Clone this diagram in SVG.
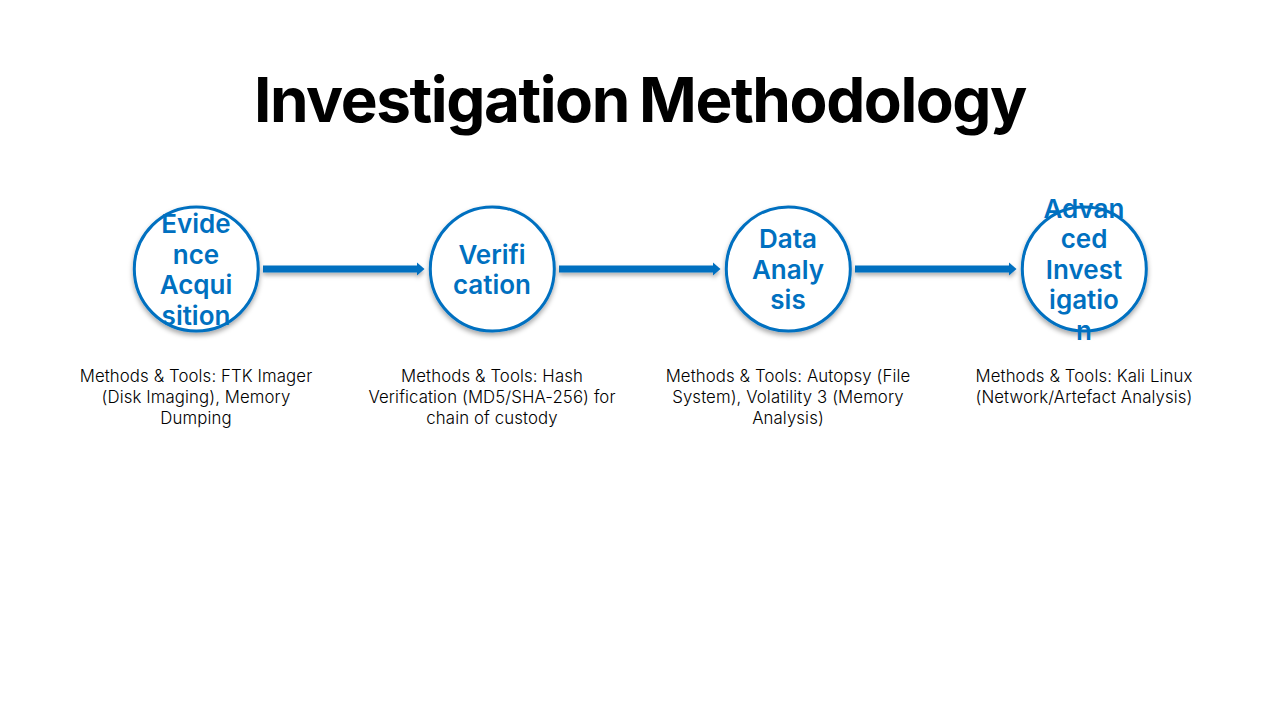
<svg xmlns="http://www.w3.org/2000/svg" width="1280" height="720" viewBox="0 0 1280 720">
<defs>
<filter id="s" x="-20%" y="-20%" width="140%" height="140%"><feDropShadow dx="0" dy="3" stdDeviation="2.5" flood-color="#000" flood-opacity="0.35"/></filter>
<filter id="ls" filterUnits="userSpaceOnUse" x="0" y="240" width="1280" height="60"><feDropShadow dx="0" dy="3" stdDeviation="2" flood-color="#000" flood-opacity="0.3"/></filter>
<marker id="a" markerUnits="userSpaceOnUse" markerWidth="8" markerHeight="14" refX="0" refY="7" orient="auto"><path d="M0 0.5L7.500 7L0 13.500Z" fill="#0070c0"/></marker>
</defs>
<style>
text{font-family:"Inter","Noto Sans","Liberation Sans",sans-serif;text-anchor:middle}
.t{font-size:62px;font-weight:700;fill:#000;letter-spacing:-1.43px;word-spacing:-3px}
.n{font-size:26px;font-weight:600;fill:#0070c0}
.d{font-size:16.8px;font-weight:300;letter-spacing:0.1px;fill:#000}
.c{fill:#fff;stroke:#0070c0;stroke-width:3;filter:url(#s)}
.l{stroke:#0070c0;stroke-width:7;fill:none;filter:url(#ls)}
</style>
<rect width="1280" height="720" fill="#fff"/>
<text class="t" x="640" y="122">Investigation Methodology</text>
<g id="connectors">
<path class="l" d="M263 269H417" marker-end="url(#a)"/>
<path class="l" d="M559 269H713" marker-end="url(#a)"/>
<path class="l" d="M855 269H1009" marker-end="url(#a)"/>
</g>
<g id="n1"><circle class="c" cx="196.300" cy="269" r="62"/>
<text class="n"><tspan x="196" y="233">Evide</tspan><tspan x="196" y="264">nce</tspan><tspan x="196" y="294">Acqui</tspan><tspan x="196" y="325">sition</tspan></text>
<text class="d"><tspan x="196" y="382">Methods &amp; Tools: FTK Imager</tspan><tspan x="196" y="403">(Disk Imaging), Memory</tspan><tspan x="196" y="424">Dumping</tspan></text></g>
<g id="n2"><circle class="c" cx="492.300" cy="269" r="62"/>
<text class="n"><tspan x="492" y="264">Verifi</tspan><tspan x="492" y="294">cation</tspan></text>
<text class="d"><tspan x="492" y="382">Methods &amp; Tools: Hash</tspan><tspan x="492" y="403">Verification (MD5/SHA-256) for</tspan><tspan x="492" y="424">chain of custody</tspan></text></g>
<g id="n3"><circle class="c" cx="788.300" cy="269" r="62"/>
<text class="n"><tspan x="788" y="248">Data</tspan><tspan x="788" y="279">Analy</tspan><tspan x="788" y="309">sis</tspan></text>
<text class="d"><tspan x="788" y="382">Methods &amp; Tools: Autopsy (File</tspan><tspan x="788" y="403">System), Volatility 3 (Memory</tspan><tspan x="788" y="424">Analysis)</tspan></text></g>
<g id="n4"><circle class="c" cx="1084.300" cy="269" r="62"/>
<text class="n"><tspan x="1084" y="218">Advan</tspan><tspan x="1084" y="248">ced</tspan><tspan x="1084" y="279">Invest</tspan><tspan x="1084" y="309">igatio</tspan><tspan x="1084" y="340">n</tspan></text>
<text class="d"><tspan x="1084" y="382">Methods &amp; Tools: Kali Linux</tspan><tspan x="1084" y="403">(Network/Artefact Analysis)</tspan></text></g>
</svg>
